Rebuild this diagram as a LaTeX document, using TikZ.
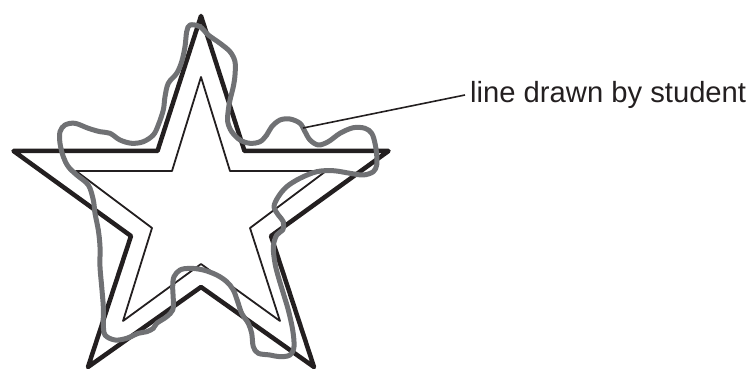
\documentclass[tikz,border=0pt]{standalone}
\usepackage{fontspec}
\setmainfont{Liberation Sans}
\usepackage{tkz-euclide}
\definecolor{PenClr}{RGB}{112,113,116}
\definecolor{InkClr}{RGB}{35,31,32}

\begin{document}
\begin{tikzpicture}[x=1pt,y=-1pt]
\useasboundingbox (0,0) rectangle (752,374);
\tkzSetUpLine[line width=4.5pt,color=InkClr]

% outer star
\tkzDefPoints{201/16/T,244.5/151/Q1,388.5/151/R,271/236/Q2,314/367/S,201/287/Q3,88/367/U,131/236/Q4,13.5/151/V,157.5/151/Q5}
% inner star
\tkzDefPoints{201/77/t,230/171/q1,326/171/r,250/228/q2,280/321/s,201/264/q3,123/321/u,152/228/q4,76/171/v,172/171/q5}

\tkzDrawPolygon(T,Q1,R,Q2,S,Q3,U,Q4,V,Q5)
\tkzDrawPolygon[line width=1.8pt](t,q1,r,q2,s,q3,u,q4,v,q5)

% line drawn by the student
\draw[PenClr,line width=5pt,line join=round] plot[smooth cycle,tension=0.55] coordinates {
 (190,25) (200,26.7) (208.3,35) (220,43.3) (230,51.7) (235,61.7) (235,75)
 (233.3,86.7) (230,100) (228.3,110) (227.7,121.7) (231.7,131.7) (240,140)
 (250,143.3) (260,141.7) (266.7,135) (271.7,126.7) (280,120) (290,119)
 (300,123.3) (305,131.7) (310,140) (318.3,145) (328.3,141.7) (340,133.3)
 (353.3,127.7) (365,128.3) (371.7,133.3) (375,143.3) (376.7,155) (376.7,165)
 (373.3,171.7) (363.3,175) (350,173.3) (333.3,170.7) (316.7,171.7) (300,178.3)
 (286.7,186.7) (278.3,196.7) (274,206.7) (278.3,215) (283.3,221.7) (282.7,230)
 (276.7,235) (273.3,246.7) (275,263.3) (278.3,276.7) (283.3,293.3) (288.3,310)
 (292.7,330) (294,346.7) (290,355) (280,356.7) (270,355) (258.3,353.3)
 (253.3,346.7) (251.7,333.3) (248.3,323.3) (241.7,313.3) (237.7,301.7)
 (233.3,290) (226.7,281.7) (216.7,275) (203.3,270) (190,268.3) (180,270)
 (174,276.7) (172.7,286.7) (173.3,300) (172.7,310) (166.7,316.7) (156.7,323.3)
 (153.3,328.3) (146.7,331.7) (138.3,333.3) (126.7,338.3) (115,340) (105,335)
 (103.3,323.3) (103.3,306.7) (101.7,286.7) (100,266.7) (100,246.7) (98.3,230)
 (95,213.3) (93.3,200) (88.3,185) (76.7,175) (68.3,166.7) (63.3,156.7)
 (60,143.3) (60,131.7) (65,125) (75,123.3) (88.3,128.3) (100,131.7)
 (110,133.3) (120,140) (131.7,143.3) (143.3,141.7) (153.3,135) (158.3,125)
 (163.3,110) (165,96.7) (168.3,83.3) (176.7,73.3) (181.7,61.7) (185,46.7)
 (186.7,31.7)};

\coordinate (tip) at (303,128);
\node[anchor=west,inner xsep=5pt,inner ysep=0pt,text=InkClr,font=\fontsize{29.2}{35}\selectfont] (lbl) at (465,95) {line drawn by student};
\draw[InkClr,line width=1.6pt] (tip) -- (lbl.west);

\end{tikzpicture}
\end{document}
